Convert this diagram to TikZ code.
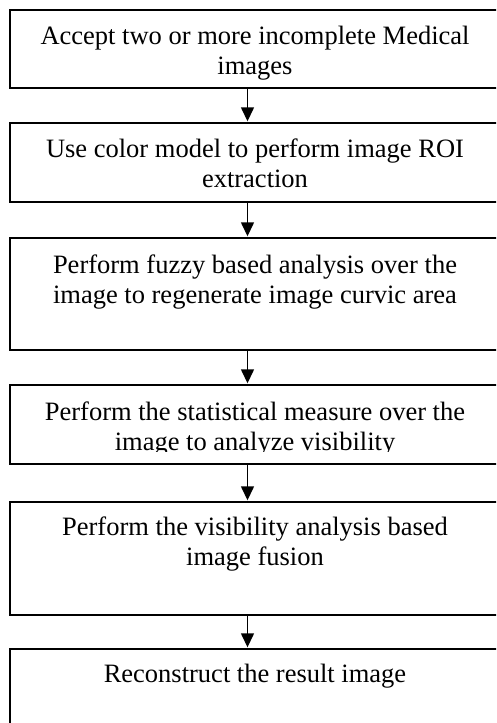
\documentclass[tikz,border=0pt]{standalone}
\usepackage{fontspec}
\setmainfont{Liberation Serif}
\usetikzlibrary{arrows.meta}
\tikzset{
  stepbox/.style={draw=black, line width=1.5pt, rectangle, inner sep=0pt, minimum width=500pt, anchor=north west},
  steptext/.style={text width=470pt, align=flush center, inner sep=0pt, anchor=base, font=\fontsize{26.5}{30}\selectfont},
  flow/.style={line width=1.4pt, -{Triangle[length=14pt,width=13pt]}, shorten >=0.7pt}
}
\begin{document}
\begin{tikzpicture}[x=1pt,y=-1pt]
\useasboundingbox (0,0) rectangle (496,723);
\clip (0,0) rectangle (496,723);
\node[stepbox, minimum height=78pt] (b1) at (9,9) {};
\node[stepbox, minimum height=79pt] (b2) at (9,122) {};
\node[stepbox, minimum height=112pt] (b3) at (9,237) {};
\node[stepbox, minimum height=79pt] (b4) at (9,384) {};
\node[stepbox, minimum height=113pt] (b5) at (9,501) {};
\node[stepbox, minimum height=100pt] (b6) at (9,648) {};
\coordinate (ax) at (247.5,0);
\node[steptext] (t1) at (255,44) {Accept two or more incomplete Medical\\images};
\node[steptext] (t2) at (255,157) {Use color model to perform image ROI\\extraction};
\node[steptext] (t3) at (255,273) {Perform fuzzy based analysis over the\\image to regenerate image curvic area};
\begin{scope}
\clip (9,384) rectangle (496,451);
\node[steptext] (t4) at (255,420) {Perform the statistical measure over the\\image to analyze visibility};
\end{scope}
\node[steptext] (t5) at (255,535) {Perform the visibility analysis based\\image fusion};
\node[steptext] (t6) at (255,682) {Reconstruct the result image};
\draw[flow] (ax |- b1.south) -- (ax |- b2.north);
\draw[flow] (ax |- b2.south) -- (ax |- b3.north);
\draw[flow] (ax |- b3.south) -- (ax |- b4.north);
\draw[flow] (ax |- b4.south) -- (ax |- b5.north);
\draw[flow] (ax |- b5.south) -- (ax |- b6.north);
\end{tikzpicture}
\end{document}
